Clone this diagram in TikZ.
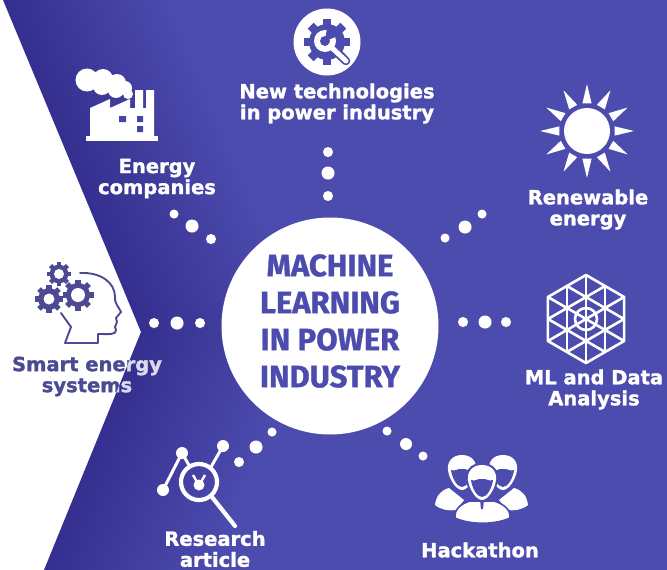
\documentclass[tikz,border=0pt]{standalone}
\usepackage{fontspec}
\setmainfont{DejaVu Sans}[BoldFeatures={FakeBold=1.4}]
\newfontfamily\titlefont{Fira Sans}[BoldFeatures={FakeBold=0.9}]
\usetikzlibrary{shadows,calc}

\definecolor{bandblue}{HTML}{4C4BAE}
\definecolor{deepblue}{HTML}{35308F}
\definecolor{inkblue}{HTML}{4B4A93}
\definecolor{paleink}{HTML}{DADAEA}

\tikzset{
  itemtext/.style={font=\bfseries\fontsize{19.5}{21}\selectfont, align=center, white},
  titletext/.style={font=\titlefont\bfseries\fontsize{31}{37}\selectfont, align=center, bandblue},
  spot/.style={white, drop shadow={shadow xshift=0.5pt, shadow yshift=-0.8pt, opacity=0.35}},
}

% x, y, outer radius, hole radius, teeth, colour, hole colour
\newcommand{\cogwheel}[7]{
  \fill[#6] (#1,#2) circle (#3*0.78);
  \foreach \t in {1,...,#5}
    \draw[#6, line width=#3*0.36pt] ($(#1,#2)+({\t*360/#5}:#3*0.7)$) -- ($(#1,#2)+({\t*360/#5}:#3)$);
  \fill[#7] (#1,#2) circle (#4);
}

% x, y of the top of the head
\newcommand{\teamhead}[2]{
  \begin{scope}[shift={(#1,#2)}]
    \fill[bandblue] (0,-2) .. controls (-12,-2) and (-17,6) .. (-16,15)
      .. controls (-15,25) and (-6,37) .. (0,37)
      .. controls (6,37) and (15,25) .. (16,15)
      .. controls (17,6) and (12,-2) .. (0,-2) -- cycle;
    \fill[white] (0,0) .. controls (-10,0) and (-15,7) .. (-14,15)
      .. controls (-13,24) and (-6,35) .. (0,35)
      .. controls (6,35) and (13,24) .. (14,15)
      .. controls (15,7) and (10,0) .. (0,0) -- cycle;
    \fill[bandblue] (-11,15) .. controls (-7,17) and (-4,13) .. (0,14)
      .. controls (4,13) and (7,17) .. (11,15)
      .. controls (10,23) and (5,32) .. (0,32)
      .. controls (-5,32) and (-10,23) .. (-11,15) -- cycle;
  \end{scope}
}

\begin{document}
\begin{tikzpicture}[x=1pt, y=-1pt]
  \useasboundingbox (0,0) rectangle (667,570);
  \fill[white] (0,0) rectangle (667,570);

  % Chevron band
  \foreach \i in {0,...,45}
  {
    \pgfmathsetmacro{\mixval}{min(100,\i*100/42)}
    \fill[bandblue!\mixval!deepblue] ({3+\i*4},0) -- ({141+\i*4},332) -- ({44+\i*4},570)
      -- (667,570) -- (667,0) -- cycle;
  }

  % Center disc
  \node[circle, fill=white, minimum size=217pt, inner sep=0pt] (hub) at (330,326) {};
  \node[titletext] (title) at (330,321) {MACHINE\\LEARNING\\IN POWER\\INDUSTRY};

  % Dots towards the items
  \foreach \x/\y/\r in {328/152/5, 328/173/6.5, 328/196/5,
      174/214/4.5, 192/226/6.5, 211/239/5,
      445/238/4.5, 465/227/6.5, 482/214/4.5,
      154/323/5, 177/323/6.5, 200/323/5,
      463/322/5, 485/322/6.5, 506/322/5,
      239/462/5, 256/447/6.5, 272/432/4.5,
      387/431/4.5, 406/444/6, 423/456/4.5}
    \fill[spot] (\x,\y) circle (\r);

  % Wrench in gear
  \fill[white] (327,42) circle (33.5);
  \cogwheel{327}{42}{23}{0}{8}{bandblue}{bandblue}
  \draw[bandblue, line width=8.5pt, line cap=round] (330,46) -- (346,61);
  \fill[white] (325,41) circle (11);
  \fill[bandblue] (325,41) circle (5);
  \fill[bandblue] (325,41) -- (327,28) -- (338,36) -- cycle;
  \draw[white, line width=5pt, line cap=round] (330,46) -- (346,61);

  % Factory
  \fill[white] (87,80) circle (11.5) (103,79) circle (10) (117,83) circle (9)
    (125,88) circle (7) (128,94) circle (5) (116,90) circle (8) (102,86) circle (9);
  \fill[white] (90,137) -- (90,108) -- (110,99) -- (110,108) -- (130,99) -- (130,108)
    -- (135,108) -- (135,90) -- (143,90) -- (143,108) -- (146,108) -- (146,90)
    -- (154,90) -- (154,137) -- cycle;
  \fill[white] (86,136) rectangle (158,141);
  \fill[bandblue!70!deepblue] (119,116) rectangle (126,122) (137,116) rectangle (143,122)
    (137,126) rectangle (143,132);

  % Sun
  \fill[white] (587,131) circle (23);
  \foreach \a in {0,30,...,330}
    \fill[white] ($(587,131)+(\a:47)$) -- ($(587,131)+(\a+9.5:28)$) -- ($(587,131)+(\a-9.5:28)$) -- cycle;

  % Hexagon mesh
  \begin{scope}[shift={(586,319)}, white, line width=2.6pt, line join=round]
    \draw (90:44) -- (30:44) -- (-30:44) -- (-90:44) -- (-150:44) -- (150:44) -- cycle;
    \foreach \a in {0,60,120}
    {
      \begin{scope}[rotate=\a]
        \draw (90:44) -- (-90:44);
        \draw (19,-33) -- (19,33);
        \draw (-19,-33) -- (-19,33);
      \end{scope}
    }
    \draw (0,0) circle (11);
  \end{scope}

  % Team
  \fill[white] (435,505) .. controls (436,496) and (441,490) .. (449,488) -- (464,500)
    -- (456,510) .. controls (449,511) and (441,510) .. (435,505) -- cycle;
  \fill[white] (528,505) .. controls (527,496) and (522,490) .. (514,488) -- (499,500)
    -- (507,510) .. controls (514,511) and (522,510) .. (528,505) -- cycle;
  \teamhead{462}{455}
  \teamhead{503}{455}
  \draw[bandblue, line width=1.6pt, fill=white] (455,518) .. controls (454,510) and (460,504) .. (470,501)
    -- (494,501) .. controls (504,504) and (511,510) .. (510,518)
    .. controls (495,525) and (470,525) .. (455,518) -- cycle;
  \teamhead{482}{465}
  \fill[bandblue] (480,500) -- (484,500) -- (483,509) -- (481,509) -- cycle;

  % Magnifier and chart
  \draw[white, line width=3pt] (163,490) -- (182,453) -- (190,467);
  \draw[white, line width=3pt] (211,467) -- (223,446);
  \fill[white] (163,490) circle (6) (182,453) circle (6) (223,446) circle (6);
  \fill[white] (199,485) circle (5.5);
  \draw[white, line width=2.4pt] (193,475) -- (197,482) (205,475) -- (201,482);
  \draw[white, line width=4.2pt] (199,482) circle (18);
  \draw[white, line width=4.2pt, line cap=round] (212,497) -- (235,526);

  % Head with gears
  \cogwheel{59}{274}{12}{5}{8}{inkblue}{white}
  \cogwheel{49}{299}{14}{5.5}{8}{inkblue}{white}
  \cogwheel{78}{295}{15.5}{7}{8}{inkblue}{white}
  \draw[inkblue, line width=1.9pt, line join=round, line cap=round] (80,273)
    .. controls (100,272) and (115,282) .. (115,297)
    .. controls (114,303) and (119,307) .. (121,312)
    -- (116,318) -- (117,322) -- (115,327) -- (116,330)
    .. controls (116,335) and (110,334) .. (98,334)
    -- (98,343) -- (65,343) -- (71,327) -- (61,313);

  % Labels
  \node[itemtext] (newtech) at (337,103.5) {New technologies\\in power industry};
  \node[itemtext] (energycomp) at (157,178.5) {Energy\\companies};
  \node[itemtext] (renewable) at (588,209.5) {Renewable\\energy};
  \node[itemtext] (mldata) at (594,389.5) {ML and Data\\Analysis};
  \node[itemtext] (research) at (215,549) {Research\\article};
  \node[itemtext] (hackathon) at (480,550) {Hackathon};
  \node[itemtext, inkblue] (smart) at (87,376.5) {Smart energy\\systems};
  \begin{scope}
    \clip (141,332) -- (44,570) -- (667,570) -- (667,0) -- (3,0) -- cycle;
    \node[itemtext, paleink] (smartlight) at (87,376.5) {Smart energy\\systems};
  \end{scope}
\end{tikzpicture}
\end{document}
